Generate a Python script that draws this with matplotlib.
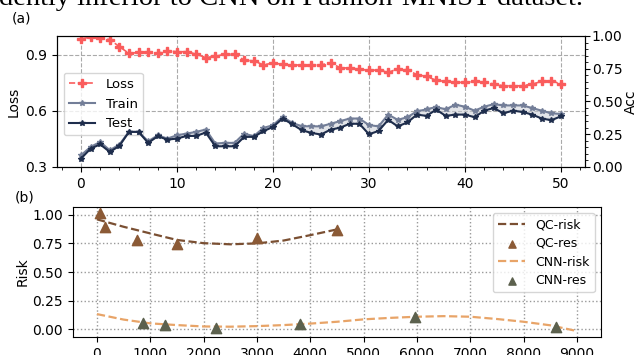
import numpy as np
import matplotlib
matplotlib.use('Agg')
import matplotlib.pyplot as plt
from matplotlib.ticker import MultipleLocator

# ==== data (a) ====
epochs = list(range(51))
loss = [0.985, 0.994, 0.988, 0.981, 0.943, 0.907, 0.912, 0.916, 0.907, 0.921,
        0.916, 0.916, 0.903, 0.885, 0.891, 0.903, 0.903, 0.871, 0.867, 0.846,
        0.855, 0.849, 0.844, 0.846, 0.846, 0.846, 0.855, 0.831, 0.828, 0.823,
        0.816, 0.819, 0.805, 0.825, 0.819, 0.793, 0.784, 0.763, 0.757, 0.752,
        0.752, 0.757, 0.754, 0.743, 0.734, 0.734, 0.734, 0.743, 0.757, 0.761,
        0.743]
train_acc = [0.089, 0.153, 0.191, 0.128, 0.171, 0.268, 0.268, 0.196, 0.242, 0.217,
             0.242, 0.255, 0.268, 0.286, 0.179, 0.184, 0.184, 0.255, 0.235, 0.298,
             0.319, 0.383, 0.337, 0.311, 0.311, 0.310, 0.330, 0.350, 0.370, 0.370,
             0.320, 0.310, 0.400, 0.360, 0.380, 0.425, 0.440, 0.458, 0.440, 0.476,
             0.460, 0.430, 0.460, 0.480, 0.470, 0.470, 0.470, 0.450, 0.430, 0.410,
             0.405]
test_acc = [0.064, 0.140, 0.173, 0.115, 0.161, 0.268, 0.268, 0.184, 0.235, 0.209,
            0.217, 0.237, 0.237, 0.263, 0.158, 0.158, 0.158, 0.230, 0.230, 0.273,
            0.306, 0.370, 0.327, 0.281, 0.260, 0.248, 0.285, 0.300, 0.330, 0.330,
            0.250, 0.275, 0.360, 0.310, 0.340, 0.400, 0.390, 0.438, 0.390, 0.400,
            0.400, 0.380, 0.430, 0.450, 0.410, 0.430, 0.420, 0.400, 0.370, 0.357,
            0.387]

# ==== data (b) ====
qc_risk_x = [0, 500, 1000, 1500, 2000, 2500, 3000, 3500, 4000, 4500]
qc_risk_y = [0.96, 0.895, 0.837, 0.78, 0.752, 0.742, 0.75, 0.775, 0.822, 0.872]
qc_res_x = [56, 150, 746, 1500, 3000, 4505]
qc_res_y = [1.017, 0.895, 0.778, 0.743, 0.80, 0.866]
cnn_risk_x = [0, 500, 1000, 1500, 2000, 2500, 3000, 3500, 4000, 4500, 5000,
              5500, 6000, 6500, 7000, 7500, 8000, 8500, 9000]
cnn_risk_y = [0.133, 0.085, 0.052, 0.037, 0.025, 0.023, 0.028, 0.037, 0.05, 0.066,
              0.087, 0.100, 0.110, 0.115, 0.110, 0.090, 0.066, 0.035, -0.015]
cnn_res_x = [870, 1278, 2237, 3816, 5965, 8609]
cnn_res_y = [0.052, 0.037, 0.014, 0.046, 0.105, 0.023]

fig = plt.figure(figsize=(6.4, 3.55), dpi=100)
plt.rcParams['font.size'] = 10

# caption fragment cut at the top
fig.text(-0.002, 0.985, 'dently inferior to CNN on Fashion-MNIST dataset.',
         family='Liberation Serif', fontsize=20.5, va='baseline', ha='left')

# ==== (a) ====
ax1 = fig.add_axes([0.089, 0.5296, 0.825, 0.369])
l1, = ax1.plot(epochs, loss, '--', color='#fa5c5c', marker='P', ms=6, lw=1.2,
               label='Loss')
ax1.set_ylim(0.3, 1.0)
ax1.set_xlim(-2.5, 52.5)
ax1.set_yticks([0.3, 0.6, 0.9])
ax1.set_ylabel('Loss', labelpad=3)
ax1.xaxis.set_major_locator(MultipleLocator(10))
ax1.xaxis.set_minor_locator(MultipleLocator(2))
ax1.grid(True, ls='--', color='#aaaaaa', lw=0.8)

ax2 = ax1.twinx()
l2, = ax2.plot(epochs, train_acc, '-', color='#737e98', marker='*', ms=4, lw=1.5,
               label='Train')
l3, = ax2.plot(epochs, test_acc, '-', color='#1e2d4c', marker='*', ms=4, lw=1.5,
               label='Test')
ax2.fill_between(epochs, test_acc, train_acc, color='#c8ccd4', alpha=0.5, lw=0)
ax2.set_ylim(0, 1)
ax2.yaxis.set_major_locator(MultipleLocator(0.25))
ax2.yaxis.set_minor_locator(MultipleLocator(0.05))
ax2.tick_params(axis='y', which='major', pad=1.5)
ax2.set_ylabel('Acc', labelpad=1)
ax1.legend(handles=[l1, l2, l3], loc='center left', bbox_to_anchor=(0.0, 0.48),
           fontsize=9.5)

fig.text(0.019, 0.947, '(a)', fontsize=10, va='center')

# ==== (b) ====
ax3 = fig.add_axes([0.114, 0.0507, 0.825, 0.366])
ax3.plot(qc_risk_x, qc_risk_y, '--', color='#7a4f32', lw=1.6, label='QC-risk')
ax3.scatter(qc_res_x, qc_res_y, marker='^', s=55, color='#8b5a36', label='QC-res',
            zorder=3)
ax3.plot(cnn_risk_x, cnn_risk_y, '--', color='#e8a468', lw=1.6, label='CNN-risk')
ax3.scatter(cnn_res_x, cnn_res_y, marker='^', s=55, color='#5c614e',
            label='CNN-res', zorder=3)
ax3.set_xlim(-450, 9450)
ax3.set_ylim(-0.067, 1.067)
ax3.set_yticks([0, 0.25, 0.5, 0.75, 1.0])
ax3.set_xticks(range(0, 9001, 1000))
ax3.set_ylabel('Risk', labelpad=2)
ax3.grid(True, ls=':', color='#999999', lw=1.0)
ax3.legend(loc='upper right', fontsize=9, markerscale=0.7, handlelength=2.2,
           labelspacing=0.45)

fig.text(0.023, 0.445, '(b)', fontsize=10, va='center')

fig.savefig('out.png', dpi=100)
